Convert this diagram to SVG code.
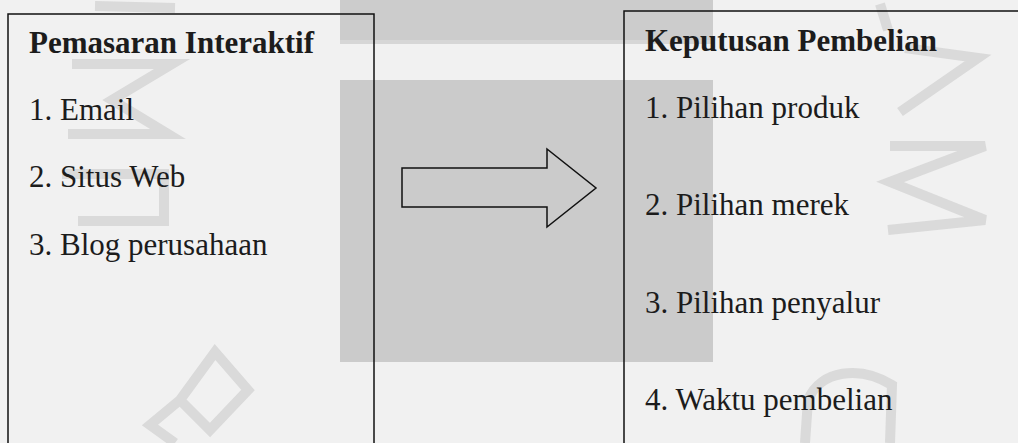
<svg xmlns="http://www.w3.org/2000/svg" width="1018" height="443" viewBox="0 0 1018 443">
<style>
.box{fill:none;stroke:#111;stroke-width:1.5}
.t{font-family:"Liberation Serif","Times New Roman",serif;font-size:31px;fill:#1c1c1c}
.h{font-weight:bold}
.wm{fill:none;stroke:#d2d2d2;stroke-width:10;stroke-linejoin:miter;opacity:0.75}
</style>
<g id="background">
<rect x="0" y="0" width="1018" height="443" fill="#f1f1f1"/>
<rect x="340" y="0" width="373" height="40" fill="#cccccc"/>
<rect x="340" y="40" width="373" height="4" fill="#d6d6d6"/>
<rect x="340" y="80" width="373" height="282" fill="#cbcbcb"/>
<polyline class="wm" points="95,6 175,8"/>
<polyline class="wm" points="72,64 172,64 112,100 168,134 68,134"/>
<polyline class="wm" points="62,174 164,174 164,221 78,221"/>
<path class="wm" d="M215,352 L248,390 L210,430 L180,400 Z M180,400 L150,425 L175,443"/>
<polyline class="wm" points="880,4 888,30"/>
<polyline class="wm" points="905,48 978,58 900,112"/>
<polyline class="wm" points="890,146 985,146 890,182 985,220 888,230"/>
<path class="wm" d="M890,443 L892,385 C860,365 820,370 808,400 L805,443"/>
</g>
<g id="node-pemasaran">
<rect class="box" x="8" y="14" width="366" height="440"/>
<text class="t h" x="29" y="53">Pemasaran Interaktif</text>
<text class="t" x="29" y="120">1. Email</text>
<text class="t" x="29" y="187">2. Situs Web</text>
<text class="t" x="29" y="255">3. Blog perusahaan</text>
</g>
<g id="node-keputusan">
<rect class="box" x="624" y="11" width="410" height="445"/>
<text class="t h" x="645" y="51">Keputusan Pembelian</text>
<text class="t" x="645" y="118">1. Pilihan produk</text>
<text class="t" x="645" y="215">2. Pilihan merek</text>
<text class="t" x="645" y="313">3. Pilihan penyalur</text>
<text class="t" x="645" y="410">4. Waktu pembelian</text>
</g>
<g id="connectors">
<polygon points="402,168 547,168 547,149 596,188 547,227 547,207 402,207" fill="none" stroke="#111" stroke-width="1.5"/>
</g>
</svg>
